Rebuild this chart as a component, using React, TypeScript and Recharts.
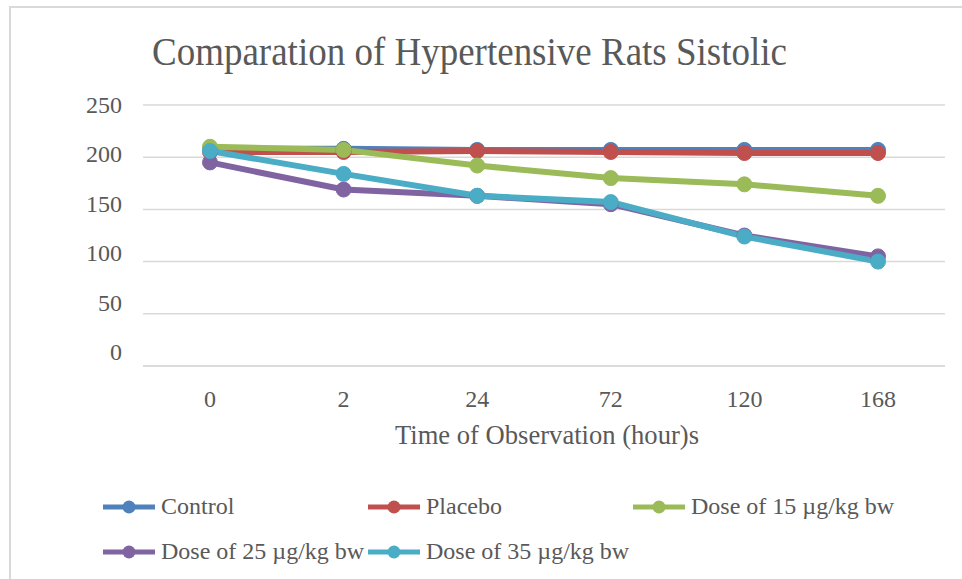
import React from 'react';
import { LineChart, Line, XAxis, YAxis, CartesianGrid, Label } from 'recharts';

const categories = ['0', '2', '24', '72', '120', '168'];
const control = [208, 208, 207, 207, 207, 207];
const placebo = [205, 205, 206, 205, 204, 204];
const dose15 = [210, 207, 192, 180, 174, 163];
const dose25 = [195, 169, 163, 155, 125, 105];
const dose35 = [206, 184, 163, 157, 124, 100];
const yTicks = [0, 50, 100, 150, 200, 250];

const seriesNames = ['Control', 'Placebo', 'Dose of 15 µg/kg bw', 'Dose of 25 µg/kg bw', 'Dose of 35 µg/kg bw'];
const seriesKeys = ['control', 'placebo', 'dose15', 'dose25', 'dose35'];
const seriesColors = ['#4F81BD', '#C0504D', '#9BBB59', '#8064A2', '#4BACC6'];
const seriesValues = [control, placebo, dose15, dose25, dose35];

const data = categories.map((c, i) => {
  const row: any = { time: c };
  seriesKeys.forEach((k, s) => {
    row[k] = seriesValues[s][i];
  });
  return row;
});

const FONT = '"Liberation Serif", "Times New Roman", serif';
const TEXT = '#595959';

const YTick = (props: any) => {
  const { x, y, payload } = props;
  const dy = -(250 - payload.value) * 0.056;
  return (
    <text x={x} y={y + dy} textAnchor="end" dominantBaseline="central" fill={TEXT} fontSize={24} fontFamily={FONT}>
      {payload.value}
    </text>
  );
};

const XTick = (props: any) => {
  const { x, y, payload } = props;
  return (
    <text x={x} y={y + 31} textAnchor="middle" dominantBaseline="central" fill={TEXT} fontSize={24} fontFamily={FONT}>
      {payload.value}
    </text>
  );
};

const AxisTitle = (props: any) => {
  const vb = props.viewBox || {};
  const cx = vb.x + vb.width / 2 + 3;
  const by = vb.y + 78;
  return (
    <text
      x={cx}
      y={by}
      textAnchor="middle"
      fill={TEXT}
      fontSize={27}
      fontFamily={FONT}
      textLength={304}
      lengthAdjust="spacingAndGlyphs"
    >
      Time of Observation (hour)s
    </text>
  );
};

export default function App() {
  return (
    <div style={{ position: 'absolute', left: 0, top: 0, width: 962, height: 579, overflow: 'hidden', background: '#fff' }}>
      <div
        style={{
          position: 'absolute',
          left: 9,
          top: 6,
          width: 1000,
          height: 640,
          border: '2px solid #D9D9D9',
          boxSizing: 'border-box',
        }}
      />
      <svg width={962} height={90} style={{ position: 'absolute', left: 0, top: 0 }}>
        <text
          x={469.5}
          y={65}
          textAnchor="middle"
          fill={TEXT}
          fontSize={39}
          fontFamily={FONT}
          textLength={635}
          lengthAdjust="spacingAndGlyphs"
        >
          Comparation of Hypertensive Rats Sistolic
        </text>
      </svg>
      <div style={{ position: 'absolute', left: 0, top: 0 }}>
        <LineChart width={962} height={579} data={data} margin={{ top: 105, right: 17, left: 0, bottom: 133 }}>
          <CartesianGrid horizontal vertical={false} stroke="#D9D9D9" strokeWidth={1.5} />
          <XAxis
            dataKey="time"
            axisLine={{ stroke: '#D9D9D9', strokeWidth: 1.5 }}
            tickLine={false}
            tickSize={0}
            height={80}
            tick={<XTick />}
            interval={0}
            padding={{ left: 67, right: 67 }}
          >
            <Label content={<AxisTitle />} position="insideBottom" />
          </XAxis>
          <YAxis
            domain={[0, 250]}
            ticks={yTicks}
            axisLine={false}
            tickLine={false}
            tickSize={0}
            tickMargin={21}
            width={143}
            tick={<YTick />}
            interval={0}
          />
          {seriesKeys.map((k, s) => (
            <Line
              key={k}
              type="linear"
              dataKey={k}
              name={seriesNames[s]}
              stroke={seriesColors[s]}
              strokeWidth={6}
              dot={{ r: 7.5, fill: seriesColors[s], stroke: seriesColors[s], strokeWidth: 1 }}
              activeDot={false}
              isAnimationActive={false}
            />
          ))}
        </LineChart>
      </div>
      <div
        style={{
          position: 'absolute',
          left: 103,
          top: 492,
          display: 'grid',
          gridTemplateColumns: '265px 265px 265px',
          rowGap: 16,
          fontFamily: FONT,
          fontSize: 24,
          color: TEXT,
        }}
      >
        {seriesNames.map((n, s) => (
          <div key={n} style={{ display: 'flex', alignItems: 'center', height: 29, whiteSpace: 'nowrap' }}>
            <svg width={58} height={20} style={{ flex: 'none' }}>
              <line x1={0} y1={10} x2={52} y2={10} stroke={seriesColors[s]} strokeWidth={5} />
              <circle cx={26} cy={10} r={6.5} fill={seriesColors[s]} />
            </svg>
            <span>{n}</span>
          </div>
        ))}
      </div>
    </div>
  );
}
